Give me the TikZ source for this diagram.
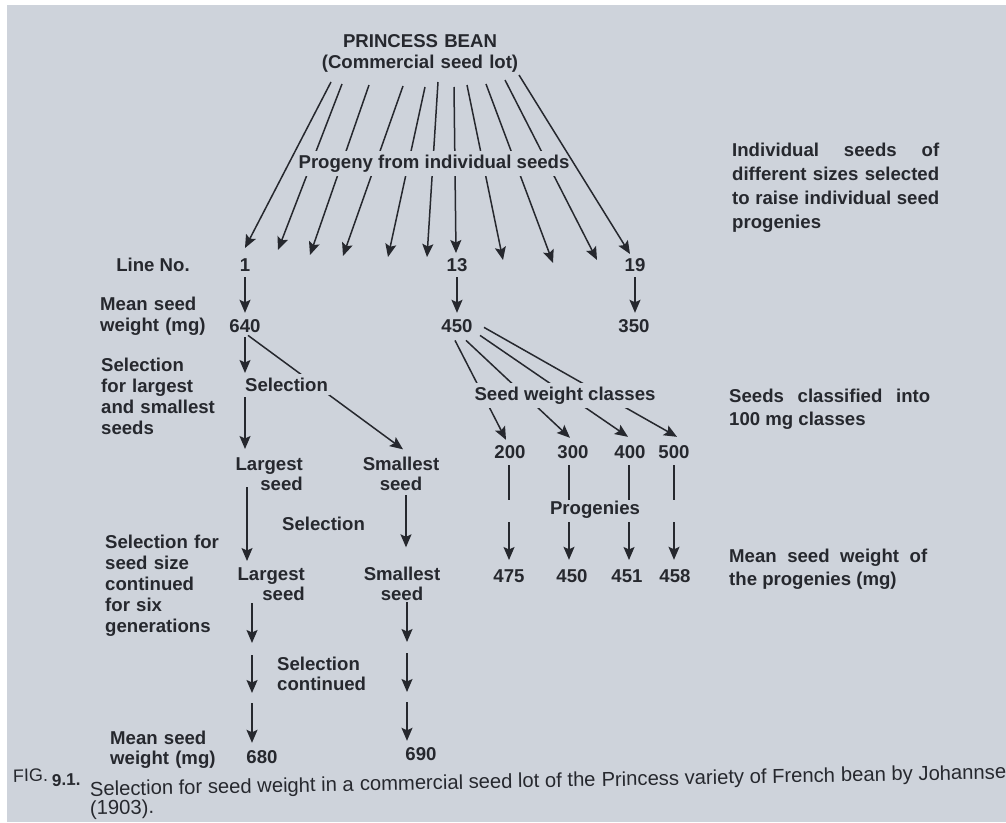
\documentclass[tikz,border=0pt]{standalone}
\usepackage{fontspec}
\setmainfont{Liberation Sans}
\usetikzlibrary{arrows.meta}
\definecolor{bg}{RGB}{206,211,219}
\definecolor{ink}{RGB}{38,40,46}
\begin{document}
\begin{tikzpicture}[x=1pt,y=-1pt,
 lbl/.style={font=\bfseries\fontsize{18.6}{21}\selectfont, text=ink, inner sep=0pt},
 lbltwo/.style={lbl, font=\bfseries\fontsize{18.6}{20}\selectfont},
 ln/.style={draw=ink, line width=1.5pt},
 arr/.style={ln, -{Stealth[length=13pt,width=11pt,inset=2.5pt]}},
 gapfill/.style={fill=bg, inner xsep=2pt, inner ysep=4pt},
 capt/.style={font=\fontsize{20.2}{19}\selectfont, text=ink, inner sep=0pt, anchor=base west, rotate=1.1},
 just/.style={align=justify, execute at begin node={\tolerance=10000\hbadness=10000}},
]
\fill[white] (0,0) rectangle (1006,822);
\fill[bg] (7,5) rectangle (1006,822);
\useasboundingbox (0,0) rectangle (1006,822);

% title
\node[lbl, anchor=base, align=center, text width=240pt] (title) at (420,47) {PRINCESS BEAN\\(Commercial seed lot)};

% fan of individual seeds
\foreach \i/\tx/\ty/\ax/\ay in {1/331/82/245/248, 2/342/84/278/250, 3/369/85/310/255,
  4/403/86/343/256, 5/425/87/388/257, 6/438/82/427/257, 7/454/87/456/253,
  8/467/85/503/260, 9/486/84/553/263, 10/505/80/597/260, 11/519/75/630/254}
  {\coordinate (t\i) at (\tx,\ty); \coordinate (a\i) at (\ax,\ay);}
\foreach \i in {2,...,10} \draw[arr] (t\i) -- (a\i);
\node[lbl, gapfill, anchor=base] (prog) at (434,168) {Progeny from individual seeds};
\draw[arr] (t1) -- (a1);
\draw[arr] (t11) -- (a11);

% line numbers and weights
\node[lbl, anchor=base] (lineno) at (153,271) {Line No.};
\node[lbl, anchor=base] (n1) at (245,271) {1};
\node[lbl, anchor=base] (n13) at (457,271) {13};
\node[lbl, anchor=base] (n19) at (635,271) {19};
\node[lbl, anchor=base west, align=left, text width=120pt] (msw) at (100,310) {Mean seed\\weight (mg)};
\node[lbl, anchor=base] (w1) at (245,332) {640};
\node[lbl, anchor=base] (w13) at (457,332) {450};
\node[lbl, anchor=base] (w19) at (634,332) {350};
\draw[arr, shorten <=6pt, shorten >=6pt] (n1.south) -- (w1.north);
\draw[arr, shorten <=6pt, shorten >=6pt] (n13.south) -- (w13.north);
\draw[arr, shorten <=6pt, shorten >=6pt] (n19.south) -- (n19.south |- w19.north);

% left branch: largest and smallest
\node[lbl, anchor=base west, align=left, text width=130pt] (sells) at (101,371) {Selection\\for largest\\and smallest\\seeds};
\node[lbltwo, anchor=base east, align=right, text width=90pt] (ls1) at (303,470) {Largest\\seed};
\node[lbltwo, anchor=base, align=center, text width=100pt] (ss1) at (401,470) {Smallest\\seed};
\draw[arr] ([shift={(3,3)}]w1.south) -- ([shift={(2,-7)}]ss1.north);
\coordinate (s1) at (245,373);
\coordinate (s2) at (245,397);
\node[lbl, gapfill, anchor=base west] (sel1) at (243,391) {Selection};
\draw[arr, shorten <=5pt] (w1.south) -- (s1);
\draw[arr, shorten >=8pt] (s2) -- (s2 |- ls1.north);

\coordinate (cL) at (247,0);
\coordinate (cS) at (406,0);
\node[lbltwo, anchor=base east, align=right, text width=90pt] (ls2) at (305,580) {Largest\\seed};
\node[lbltwo, anchor=base, align=center, text width=100pt] (ss2) at (402,580) {Smallest\\seed};
\draw[arr, shorten <=-3pt, shorten >=6pt] (ls1.south -| cL) -- (ls2.north -| cL);
\draw[arr, shorten <=5pt, shorten >=19pt] (ss1.south -| cS) -- (ss2.north -| cS);
\node[lbl, anchor=base west] (sel2) at (282,530) {Selection};

\node[lbl, anchor=base west, align=left, text width=130pt] (six) at (105,548) {Selection for\\seed size\\continued\\for six\\generations};
\node[lbltwo, anchor=base west, align=left, text width=110pt] (selc) at (277,670) {Selection\\continued};
\node[lbltwo, anchor=base west, align=left, text width=120pt] (msw2) at (110,744) {Mean seed\\weight (mg)};
\node[lbl, anchor=base] (w680) at (262,763) {680};
\node[lbl, anchor=base] (w690) at (421,760) {690};
\coordinate (l1) at (252,643);
\coordinate (l2) at (252,655);
\coordinate (l3) at (252,693);
\coordinate (l4) at (252,703);
\coordinate (r1) at (407,642);
\coordinate (r2) at (407,653);
\coordinate (r3) at (407,692);
\coordinate (r4) at (407,702);
\draw[arr, shorten <=3pt] (ls2.south -| l1) -- (l1);
\draw[arr] (l2) -- (l3);
\draw[arr, shorten >=7pt] (l4) -- (l4 |- w680.north);
\draw[arr, shorten <=2pt] (ss2.south -| r1) -- (r1);
\draw[arr] (r2) -- (r3);
\draw[arr, shorten >=6pt] (r4) -- (r4 |- w690.north);

% seed weight classes of line 13
\node[lbl, anchor=base] (c200) at (510,458) {200};
\node[lbl, anchor=base] (c300) at (573,458) {300};
\node[lbl, anchor=base] (c400) at (630,458) {400};
\node[lbl, anchor=base] (c500) at (674,458) {500};
\draw[arr] ([shift={(-2,8)}]w13.south) -- ([shift={(-4,-5)}]c200.north);
\draw[arr] ([shift={(9,8)}]w13.south) -- ([shift={(-3,-7)}]c300.north);
\draw[arr] ([shift={(23,3)}]w13.south) -- ([shift={(-2,-8)}]c400.north);
\draw[arr] ([shift={(27,-5)}]w13.south) -- ([shift={(3,-8)}]c500.north);
\node[lbl, gapfill, anchor=base] (swc) at (565,400) {Seed weight classes};

\node[lbl, anchor=base] (v475) at (509,582) {475};
\node[lbl, anchor=base] (v450) at (572,582) {450};
\node[lbl, anchor=base] (v451) at (627,582) {451};
\node[lbl, anchor=base] (v458) at (675,582) {458};
\node[lbl, anchor=base] (progn) at (595,514) {Progenies};
\coordinate (p1) at (509,500); \coordinate (q1) at (509,522);
\coordinate (p2) at (569,500); \coordinate (q2) at (569,522);
\coordinate (p3) at (629,500); \coordinate (q3) at (629,522);
\coordinate (p4) at (674,500); \coordinate (q4) at (674,522);
\draw[ln, shorten <=7pt] (c200.south -| p1) -- (p1);
\draw[ln, shorten <=7pt] (c300.south -| p2) -- (p2);
\draw[ln, shorten <=7pt] (c400.south -| p3) -- (p3);
\draw[ln, shorten <=7pt] (c500.south -| p4) -- (p4);
\draw[arr, shorten >=9pt] (q1) -- (q1 |- v475.north);
\draw[arr, shorten >=9pt] (q2) -- (q2 |- v450.north);
\draw[arr, shorten >=9pt] (q3) -- (q3 |- v451.north);
\draw[arr, shorten >=9pt] (q4) -- (q4 |- v458.north);

% notes on the right
\node[lbl, just, anchor=base west, text width=207pt, font=\bfseries\fontsize{18.6}{24}\selectfont] (note1) at (732,156)
  {Individual seeds of\linebreak different sizes selected\linebreak to raise individual seed\linebreak progenies};
\node[lbl, just, anchor=base west, text width=201pt, font=\bfseries\fontsize{18.6}{23}\selectfont] (note2) at (729,402)
  {Seeds classified into\linebreak 100 mg classes};
\node[lbl, just, anchor=base west, text width=198pt, font=\bfseries\fontsize{18.6}{23}\selectfont] (note3) at (729,562)
  {Mean seed weight of\linebreak the progenies (mg)};

% caption (slightly tilted, as photographed)
\node[capt, font=\fontsize{18}{20}\selectfont] (figlab) at (13,782) {FIG.};
\node[capt, font=\bfseries\fontsize{17}{20}\selectfont] (fignum) at (52,786) {9.1.};
\node[capt] (capa) at (90,796) {Selection for seed weight in a};
\node[capt] (capb) at ([xshift=5.6pt]capa.base east) {commercial seed lot of the};
\node[capt] (capc) at ([xshift=5.6pt]capb.base east) {Princess variety of French};
\node[capt] (capd) at ([xshift=5.6pt]capc.base east) {bean by Johannsen};
\node[capt] (cape) at (90,815) {(1903).};
\end{tikzpicture}
\end{document}
